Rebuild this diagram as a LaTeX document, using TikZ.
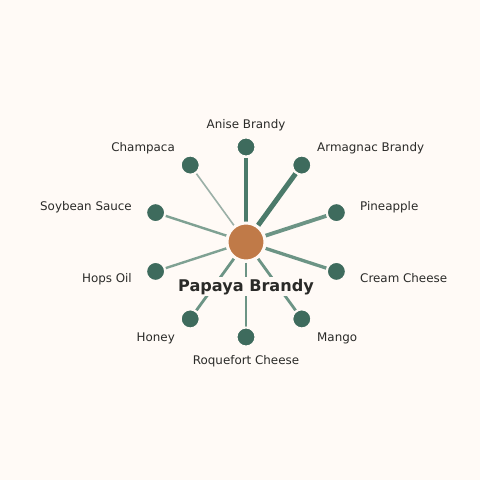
\documentclass[tikz,border=0pt]{standalone}
\usepackage{fontspec}
\setmainfont{DejaVu Sans}
\definecolor{bg}{HTML}{FFFAF6}
\definecolor{leaf}{HTML}{3E6B5D}
\definecolor{hub}{HTML}{C07A48}
\definecolor{ink}{HTML}{2A2A28}
\definecolor{edgeA}{HTML}{4B7A6A}
\definecolor{edgeB}{HTML}{6C9485}
\definecolor{edgeC}{HTML}{7FA193}
\definecolor{edgeD}{HTML}{9BB0A7}
\begin{document}
\begin{tikzpicture}[x=1pt,y=-1pt,
  leafnode/.style={circle,fill=leaf,draw=bg,line width=2pt,minimum size=19pt,inner sep=0pt},
  hubnode/.style={circle,fill=hub,draw=bg,line width=3pt,minimum size=38pt,inner sep=0pt},
  lbl/.style={font=\fontsize{11.9}{14}\selectfont,text=ink,inner sep=0pt},
  link/.style={line cap=butt}]
\fill[bg] (0,0) rectangle (480,480);
\useasboundingbox (0,0) rectangle (480,480);
\coordinate (c) at (246,242);
\node[leafnode] (an) at (246,147) {};
\node[leafnode] (ar) at (301.8,165.1) {};
\node[leafnode] (pi) at (336.4,212.6) {};
\node[leafnode] (cc) at (336.4,271.4) {};
\node[leafnode] (ma) at (301.8,318.9) {};
\node[leafnode] (ro) at (246,337) {};
\node[leafnode] (ho) at (190.2,318.9) {};
\node[leafnode] (hp) at (155.6,271.4) {};
\node[leafnode] (so) at (155.6,212.6) {};
\node[leafnode] (ch) at (190.2,165.1) {};
\node[hubnode] (hub) at (c) {};
% links
\draw[link,edgeA,line width=4pt] (hub) -- (an);
\draw[link,edgeA,line width=5pt] (hub) -- (ar);
\draw[link,edgeB,line width=3.8pt] (hub) -- (pi);
\draw[link,edgeB,line width=3.3pt] (hub) -- (cc);
\draw[link,edgeB,line width=2.8pt] (hub) -- (ma);
\draw[link,edgeB,line width=2.8pt] (hub) -- (ro);
\draw[link,edgeB,line width=2.8pt] (hub) -- (ho);
\draw[link,edgeC,line width=2.4pt] (hub) -- (hp);
\draw[link,edgeC,line width=2.4pt] (hub) -- (so);
\draw[link,edgeD,line width=1.6pt] (hub) -- (ch);
% redraw nodes on top
\foreach \n in {an,ar,pi,cc,ma,ro,ho,hp,so,ch}{\node[leafnode] at (\n) {};}
\node[hubnode] at (c) {};
% labels
\node[lbl,anchor=base] (lan) at (246,128) {Anise Brandy};
\node[lbl,anchor=base west] (lar) at (317,151) {Armagnac Brandy};
\node[lbl,anchor=base west] (lpi) at (360,210) {Pineapple};
\node[lbl,anchor=base west] (lcc) at (360,282) {Cream Cheese};
\node[lbl,anchor=base west] (lma) at (317,341) {Mango};
\node[lbl,anchor=base] (lro) at (246,364) {Roquefort Cheese};
\node[lbl,anchor=base east] (lho) at (175,341) {Honey};
\node[lbl,anchor=base east] (lhp) at (132,282) {Hops Oil};
\node[lbl,anchor=base east] (lso) at (132,210) {Soybean Sauce};
\node[lbl,anchor=base east] (lch) at (175,151) {Champaca};
\node[font=\bfseries\fontsize{16.1}{19}\selectfont,text=ink,fill=bg,inner sep=2pt,anchor=base] (title) at (246,291) {Papaya Brandy};
\end{tikzpicture}
\end{document}
